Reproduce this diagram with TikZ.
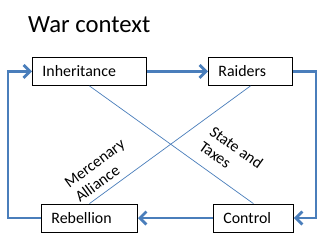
\documentclass[tikz,border=0pt]{standalone}
\usepackage{fontspec}
\setmainfont{Carlito}
\usepackage{xcolor}
\usetikzlibrary{positioning, arrows.meta}
\definecolor{loopblue}{HTML}{4A7EBB}

\begin{document}
\begin{tikzpicture}[
    x=0.85pt, y=-0.85pt,
    box/.style={draw, line width=0.8pt, text width=#1, minimum height=23.8pt, inner xsep=8.5pt, align=left, text height=8.7pt, text depth=0pt, font=\fontsize{13.5}{16}\selectfont},
    loop_arrow/.style={-{Straight Barb[length=5.5pt, width=11pt]}, line width=2.4pt, draw=loopblue},
    cross_line/.style={draw=loopblue, line width=0.6pt},
    cross_label/.style={sloped, align=left, font=\fontsize{13.5}{15.5}\selectfont}
]
\useasboundingbox (0,0) rectangle (323,238);

% Title
\node[anchor=base west, inner sep=0pt, font=\fontsize{21}{25}\selectfont] (title) at (28,32) {War context};

% Nodes
\node[box=79.9pt, anchor=north west] (inherit) at (32,57) {Inheritance};
\node[box=54.4pt, right=51.9pt of inherit] (raiders) {Raiders};
\node[box=51pt, below=100pt of raiders, xshift=2.5pt] (control) {Control};
\node[box=64.6pt, below=100pt of inherit] (rebellion) {Rebellion};

% Cycle Arrows
\draw[loop_arrow] (inherit) -- (raiders);
\draw[loop_arrow] (raiders.east) -- ++(23,0) |- (control.east);
\draw[loop_arrow] (control) -- (rebellion);
\draw[loop_arrow] (rebellion.west) -- ++(-33,0) |- (inherit.west);

% Cross Lines
\draw[cross_line] (inherit.south) -- node[cross_label, pos=0.77, above=6.5pt] {State and\\Taxes} (control.north);
\draw[cross_line] (rebellion.north) -- node[cross_label, pos=0.14, above=1.5pt] {Mercenary\\Alliance} (raiders.south);

\end{tikzpicture}
\end{document}
